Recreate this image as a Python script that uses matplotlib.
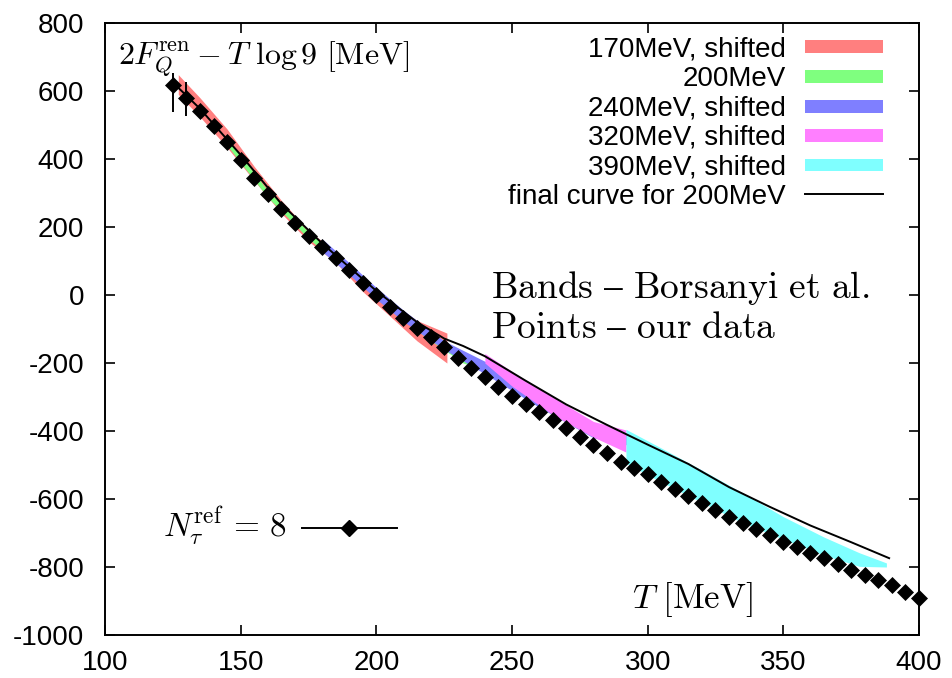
import numpy as np
import matplotlib
matplotlib.use("Agg")
import matplotlib.pyplot as plt
from matplotlib.patches import Rectangle

# puntos: temperatura [MeV] y 2F_Q - T log 9 [MeV]
T_pts = [125, 130, 135, 140, 145, 150, 155, 160, 165, 170, 175, 180, 185, 190,
         195, 200, 205, 210, 215, 220, 225, 230, 235, 240, 245, 250, 255, 260,
         265, 270, 275, 280, 285, 290, 295, 300, 305, 310, 315, 320, 325, 330,
         335, 340, 345, 350, 355, 360, 365, 370, 375, 380, 385, 390, 395, 400]
F_pts = [618, 580, 540, 498, 450, 398, 345, 297, 253, 212, 174, 140, 110, 73,
         35, 0, -35, -68, -97, -124, -153, -185, -215, -241, -271, -296, -320, -345,
         -368, -392, -418, -442, -466, -490, -508, -527, -550, -572, -590, -612, -632, -652,
         -670, -687, -706, -725, -741, -759, -774, -790, -808, -824, -838, -854, -873, -891]
# barras de error de los dos primeros puntos
err_lo = [80, 55]
err_hi = [35, 45]

# curva final para 200MeV
curve_T = [125, 135, 150, 165, 180, 200, 215, 225, 232, 240, 255, 270, 285, 300,
           315, 330, 345, 360, 375, 389]
curve_F = [625, 548, 412, 268, 152, 12, -80, -128, -150, -180, -252, -322, -382, -440,
           -497, -565, -623, -678, -727, -774]

# bandas de Borsanyi et al.
red_T = [127, 135, 145, 155, 165, 175, 185, 195, 205, 215, 226]
red_hi = [648, 580, 488, 378, 278, 190, 127, 45, -20, -75, -112]
red_lo = [590, 524, 434, 336, 240, 158, 96, 10, -62, -135, -200]

green_T = [145, 160, 175, 190, 205, 220, 232, 240]
green_hi = [462, 307, 186, 86, -22, -112, -172, -200]
green_lo = [440, 287, 166, 66, -44, -134, -200, -222]

blue_T = [180, 190, 200, 210, 225, 240, 260, 280, 292, 305, 320]
blue_hi = [165, 95, 22, -45, -135, -195, -285, -375, -405, -462, -515]
blue_lo = [128, 60, -12, -78, -160, -232, -330, -420, -440, -482, -532]

mag_T = [240, 250, 265, 280, 292]
mag_hi = [-172, -225, -300, -372, -397]
mag_lo = [-200, -268, -352, -418, -462]

cyan_T = [292, 305, 320, 335, 350, 365, 378, 388]
cyan_hi = [-395, -450, -515, -582, -652, -712, -758, -788]
cyan_lo = [-495, -550, -610, -670, -718, -765, -798, -800]

labels = ["170MeV, shifted", "200MeV", "240MeV, shifted", "320MeV, shifted",
          "390MeV, shifted", "final curve for 200MeV"]
colors = ["#ff7f7f", "#7fff7f", "#7f7fff", "#ff7fff", "#7fffff"]

plt.rcParams["font.family"] = ["Liberation Sans", "DejaVu Sans"]
plt.rcParams["mathtext.fontset"] = "cm"
plt.rcParams["axes.unicode_minus"] = False

fig = plt.figure(figsize=(9.53, 6.78), dpi=100)
ax = fig.add_axes([0.1102, 0.0634, 0.8541, 0.9027])

bands = [(red_T, red_lo, red_hi), (green_T, green_lo, green_hi),
         (blue_T, blue_lo, blue_hi), (mag_T, mag_lo, mag_hi),
         (cyan_T, cyan_lo, cyan_hi)]
for (t, lo, hi), c in zip(bands, colors):
    ax.fill_between(t, lo, hi, color=c, lw=0, zorder=1)

ax.plot(curve_T, curve_F, color="k", lw=1.4, zorder=2)
ax.errorbar(T_pts[:2], F_pts[:2], yerr=[err_lo, err_hi], fmt="none",
            ecolor="k", elinewidth=1.4, zorder=3)
ax.plot(T_pts, F_pts, "D", color="k", ms=7.8, mew=0.5, zorder=4, clip_on=False)

ax.set_xlim(100, 400)
ax.set_ylim(-1000, 800)
ax.set_xticks(np.arange(100, 401, 50))
ax.set_yticks(np.arange(-1000, 801, 200))
ax.tick_params(direction="in", length=7, width=1.2, top=True, right=True,
               labelsize=20)
ax.tick_params(axis="x", pad=11)
ax.tick_params(axis="y", pad=15)
for s in ax.spines.values():
    s.set_linewidth(1.4)

# leyenda estilo gnuplot
rows = [0.961, 0.912, 0.864, 0.816, 0.768, 0.720]
for y, lab in zip(rows, labels):
    ax.text(0.8366, y - 0.015, lab, transform=ax.transAxes, ha="right",
            va="baseline", fontsize=20)
for y, c in zip(rows[:5], colors):
    ax.add_patch(Rectangle((0.860, y - 0.0105), 0.096, 0.021, color=c,
                           transform=ax.transAxes, lw=0))
ax.plot([0.860, 0.956], [rows[5], rows[5]], color="k", lw=1.4,
        transform=ax.transAxes)

# textos
ax.text(0.016, 0.933, r"$2F_Q^{\rm ren} - T\ \log 9\ [\rm MeV]$",
        transform=ax.transAxes, fontsize=23, va="baseline")
ax.text(0.474, 0.551, r"$\mathrm{Bands\ –\ Borsanyi\ et\ al.}$",
        transform=ax.transAxes, fontsize=27, va="baseline")
ax.text(0.474, 0.485, r"$\mathrm{Points\ –\ our\ data}$",
        transform=ax.transAxes, fontsize=27, va="baseline")
ax.text(0.647, 0.044, r"$T\ [\rm MeV]$", transform=ax.transAxes,
        fontsize=25, va="baseline")
ax.text(0.071, 0.16, r"$N_\tau^{\rm ref}\,=\,8$", transform=ax.transAxes,
        fontsize=24, va="baseline")
ax.plot([0.242, 0.359], [0.175, 0.175], color="k", lw=1.4,
        transform=ax.transAxes)
ax.plot([0.3], [0.175], "D", color="k", ms=7.8, transform=ax.transAxes)

fig.savefig("out.png", dpi=100)
